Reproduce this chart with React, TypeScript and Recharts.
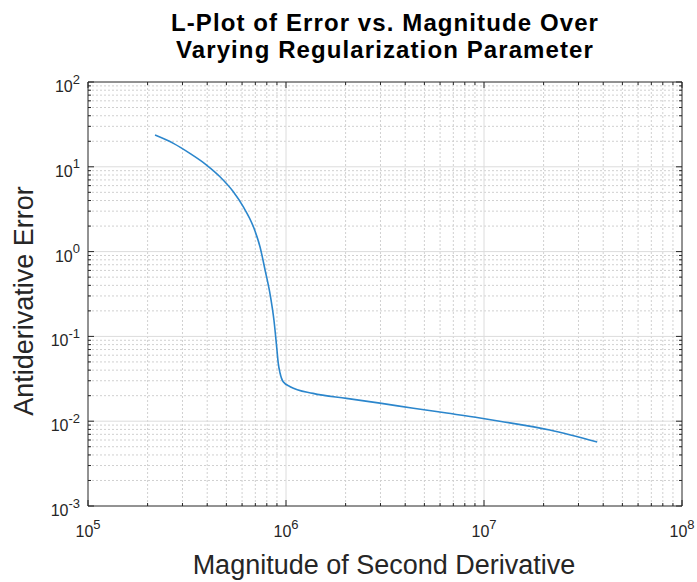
import React from 'react';
import { LineChart, Line, XAxis, YAxis, ReferenceLine } from 'recharts';

// L-curve samples: second-derivative magnitude vs antiderivative error
const magnitude = [
  2.18e5, 2.7e5, 3.27e5, 3.97e5, 4.64e5, 5.42e5, 6.08e5, 6.84e5, 7.39e5,
  7.84e5, 8.35e5, 8.69e5, 8.97e5, 9.14e5, 9.33e5, 9.68e5, 1.05e6, 1.37e6,
  2.02e6, 2.98e6, 4.4e6, 6.48e6, 9.55e6, 1.2e7, 2.15e7, 3.73e7,
];
const antiderivError = [
  23.7, 18.9, 14.4, 10.5, 7.64, 5.08, 3.39, 1.97, 1.14,
  0.607, 0.294, 0.156, 0.0757, 0.048, 0.037, 0.0292, 0.0255, 0.0213,
  0.0186, 0.01633, 0.01422, 0.01247, 0.01091, 0.01, 0.00787, 0.00569,
];

// axis decades (exponents of 10)
const xDecades = [5, 6, 7, 8];
const yDecades = [-3, -2, -1, 0, 1, 2];

const data = magnitude.map((m, i) => ({ m, err: antiderivError[i] }));

const majorsOf = (decades: number[]) => decades.map((d) => Math.pow(10, d));
const minorsOf = (decades: number[]) => {
  const out: number[] = [];
  for (let i = 0; i < decades.length - 1; i++) {
    for (let k = 2; k <= 9; k++) out.push(k * Math.pow(10, decades[i]));
  }
  return out;
};

const xMajor = majorsOf(xDecades);
const xMinor = minorsOf(xDecades);
const yMajor = majorsOf(yDecades);
const yMinor = minorsOf(yDecades);
const xTicks = [...xMajor, ...xMinor].sort((a, b) => a - b);
const yTicks = [...yMajor, ...yMinor].sort((a, b) => a - b);

const isMajor = (v: number) => {
  const l = Math.log10(v);
  return Math.abs(l - Math.round(l)) < 1e-6;
};
const expOf = (v: number) => Math.round(Math.log10(v));

const AXIS = '#262626';
const FONT = '"Liberation Sans", Arial, Helvetica, sans-serif';
const MAJOR_LEN = 6;
const MINOR_LEN = 3;

const BottomTick = ({ x, y, payload }: any) => {
  const v = payload.value;
  const major = isMajor(v);
  return (
    <g>
      <line x1={x} x2={x} y1={y} y2={y - (major ? MAJOR_LEN : MINOR_LEN)} stroke={AXIS} />
      {major && (
        <text x={x} y={y + 31} textAnchor="middle" fill={AXIS} fontSize={16} fontFamily={FONT}>
          10
          <tspan dy={-8} fontSize={13}>{expOf(v)}</tspan>
        </text>
      )}
    </g>
  );
};

const TopTick = ({ x, y, payload }: any) => {
  const major = isMajor(payload.value);
  return <line x1={x} x2={x} y1={y} y2={y + (major ? MAJOR_LEN : MINOR_LEN)} stroke={AXIS} />;
};

const LeftTick = ({ x, y, payload }: any) => {
  const v = payload.value;
  const major = isMajor(v);
  return (
    <g>
      <line x1={x} x2={x + (major ? MAJOR_LEN : MINOR_LEN)} y1={y} y2={y} stroke={AXIS} />
      {major && (
        <text x={x - 8} y={y + 10} textAnchor="end" fill={AXIS} fontSize={16} fontFamily={FONT}>
          10
          <tspan dy={-8.5} fontSize={13}>{expOf(v)}</tspan>
        </text>
      )}
    </g>
  );
};

const RightTick = ({ x, y, payload }: any) => {
  const major = isMajor(payload.value);
  return <line x1={x} x2={x - (major ? MAJOR_LEN : MINOR_LEN)} y1={y} y2={y} stroke={AXIS} />;
};

export default function App() {
  return (
    <div style={{ position: 'absolute', left: 0, top: 0, width: 697, height: 582, background: '#fff' }}>
      <LineChart width={697} height={582} data={data} margin={{ top: 52, right: 5, bottom: 46, left: 58 }}>
        <XAxis
          dataKey="m"
          type="number"
          scale="log"
          domain={[1e5, 1e8]}
          allowDataOverflow
          ticks={xTicks}
          interval={0}
          height={30}
          tickSize={0}
          tickMargin={0}
          tick={<BottomTick />}
          axisLine={{ stroke: AXIS }}
        />
        <XAxis
          xAxisId="top"
          orientation="top"
          dataKey="m"
          type="number"
          scale="log"
          domain={[1e5, 1e8]}
          allowDataOverflow
          ticks={xTicks}
          interval={0}
          height={30}
          tickSize={0}
          tickMargin={0}
          tick={<TopTick />}
          axisLine={{ stroke: AXIS }}
        />
        <YAxis
          type="number"
          scale="log"
          domain={[1e-3, 1e2]}
          allowDataOverflow
          ticks={yTicks}
          interval={0}
          width={30}
          tickSize={0}
          tickMargin={0}
          tick={<LeftTick />}
          axisLine={{ stroke: AXIS }}
        />
        <YAxis
          yAxisId="right"
          orientation="right"
          type="number"
          scale="log"
          domain={[1e-3, 1e2]}
          allowDataOverflow
          ticks={yTicks}
          interval={0}
          width={10}
          tickSize={0}
          tickMargin={0}
          tick={<RightTick />}
          axisLine={{ stroke: AXIS }}
        />
        {xMinor.map((v) => (
          <ReferenceLine key={'xm' + v} x={v} stroke="#d0d0d0" strokeDasharray="2 2" />
        ))}
        {yMinor.map((v) => (
          <ReferenceLine key={'ym' + v} y={v} stroke="#d0d0d0" strokeDasharray="2 2" />
        ))}
        {xMajor.slice(1, -1).map((v) => (
          <ReferenceLine key={'xM' + v} x={v} stroke="#dcdcdc" />
        ))}
        {yMajor.slice(1, -1).map((v) => (
          <ReferenceLine key={'yM' + v} y={v} stroke="#dcdcdc" />
        ))}
        <Line
          dataKey="err"
          type="monotone"
          stroke="#2b86cc"
          strokeWidth={1.6}
          dot={false}
          isAnimationActive={false}
        />
      </LineChart>
      <svg
        width={697}
        height={582}
        style={{ position: 'absolute', left: 0, top: 0, pointerEvents: 'none' }}
        fontFamily={FONT}
      >
        <text x={385} y={31} textAnchor="middle" fontSize={24} letterSpacing={1.1} fontWeight="bold" fill="#000">
          L-Plot of Error vs. Magnitude Over
        </text>
        <text x={385} y={58} textAnchor="middle" fontSize={24} letterSpacing={1.1} fontWeight="bold" fill="#000">
          Varying Regularization Parameter
        </text>
        <text x={384} y={574} textAnchor="middle" fontSize={27} fill={AXIS}>
          Magnitude of Second Derivative
        </text>
        <text
          x={33}
          y={301}
          textAnchor="middle"
          fontSize={27}
          fill={AXIS}
          transform="rotate(-90 33 301)"
        >
          Antiderivative Error
        </text>
      </svg>
    </div>
  );
}
